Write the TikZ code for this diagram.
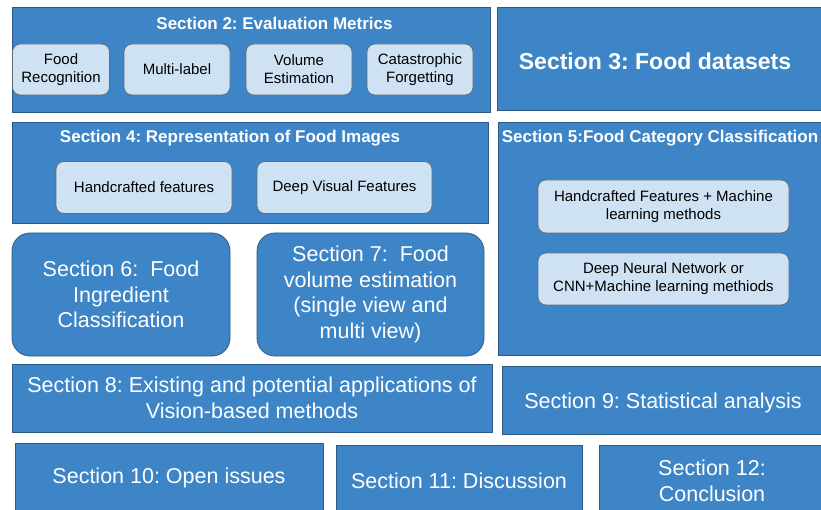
\documentclass[tikz,border=0pt]{standalone}
\usepackage{fontspec}
\setmainfont{Liberation Sans}
\usepackage{tikz}
\usepackage{xcolor}
\frenchspacing

\definecolor{secblue}{HTML}{3D85C6}
\definecolor{secedge}{HTML}{2C5A85}
\definecolor{subfill}{HTML}{CFE2F3}
\definecolor{subedge}{HTML}{5F6B77}

\tikzset{
    secbox/.style={draw=secedge, fill=secblue, line width=0.8pt, inner sep=0pt, text=white, align=center},
    roundbox/.style={secbox, rounded corners=18pt},
    subbox/.style={draw=subedge, fill=subfill, line width=0.7pt, rounded corners=8pt, inner sep=0pt, align=center, font=\fontsize{15}{18}\selectfont},
    sectitle/.style={text=white, font=\fontsize{17}{20}\selectfont\bfseries},
    bigtext/.style={font=\fontsize{21.5}{25.5}\selectfont}
}

\begin{document}
\begin{tikzpicture}[x=1pt, y=-1pt]
        \useasboundingbox (0,0) rectangle (821,510);

        % Evaluation metrics box
        \node (sec2) at (251, 59.5) [secbox, minimum width=478pt, minimum height=105pt] {};
        \node (sec2title) at (274.5, 23) [sectitle] {Section 2: Evaluation Metrics};
        \node (foodrec) at (61, 69.5) [subbox, minimum width=97pt, minimum height=51pt] {Food\\Recognition};
        \node (multilabel) at (177, 69.5) [subbox, minimum width=106pt, minimum height=51pt] {Multi-label};
        \node (volest) at (299, 69.5) [subbox, minimum width=106pt, minimum height=51pt] {Volume\\Estimation};
        \node (catforget) at (420, 69.5) [subbox, minimum width=106pt, minimum height=51pt] {Catastrophic\\Forgetting};

        % Food datasets
        \node (sec3) at (660.5, 58.5) [secbox, minimum width=327pt, minimum height=103pt] {};
        \node (sec3title) at (655, 61) [text=white, font=\fontsize{23}{27}\selectfont\bfseries] {Section 3: Food datasets};

        % Representation of food images
        \node (sec4) at (250, 172.5) [secbox, minimum width=476pt, minimum height=101pt] {};
        \node (sec4title) at (230, 138.5) [sectitle] {Section 4: Representation of Food Images};
        \node (handfeat) at (144, 187.5) [subbox, minimum width=176pt, minimum height=52pt] {Handcrafted features};
        \node (deepfeat) at (344.5, 187.5) [subbox, minimum width=175pt, minimum height=52pt] {Deep Visual Features};

        % Food category classification
        \node (sec5) at (661, 238.5) [secbox, minimum width=326pt, minimum height=233pt] {};
        \node (sec5title) at (660, 138) [sectitle] {Section 5:Food Category Classification};
        \node (handml) at (663.5, 206.5) [subbox, minimum width=251pt, minimum height=53pt] {Handcrafted Features + Machine\\learning methods};
        \node (deepml) at (663.5, 279) [subbox, minimum width=251pt, minimum height=52pt] {Deep Neural Network or\\CNN+Machine learning methiods};

        % Ingredient and volume
        \node (sec6) at (121, 294.5) [roundbox, bigtext, minimum width=218pt, minimum height=123pt] {Section 6:\ \ Food\\Ingredient\\Classification};
        \node (sec7) at (370.5, 294.5) [roundbox, bigtext, minimum width=227pt, minimum height=123pt] {Section 7:\ \ Food\\volume estimation\\(single view and\\multi view)};

        % Applications and statistics
        \node (sec8) at (252, 398) [secbox, bigtext, minimum width=480pt, minimum height=68pt] {Section 8: Existing and potential applications of\\Vision-based methods};
        \node (sec9) at (663, 400) [secbox, bigtext, minimum width=322pt, minimum height=68pt] {};
        \node (sec9title) at (663, 403) [text=white, bigtext] {Section 9: Statistical analysis};

        % Last row
        \node (sec10) at (169, 477) [secbox, minimum width=308pt, minimum height=68pt] {};
        \node (sec10title) at (169, 478) [text=white, bigtext] {Section 10: Open issues};
        \node (sec11) at (459, 479) [secbox, minimum width=246pt, minimum height=68pt] {};
        \node (sec11title) at (459, 481) [text=white, bigtext] {Section 11: Discussion};
        \node (sec12) at (712, 479) [secbox, minimum width=226pt, minimum height=68pt] {};
        \node (sec12title) at (712, 481) [text=white, bigtext, align=center] {Section 12:\\Conclusion};
    \end{tikzpicture}
\end{document}
